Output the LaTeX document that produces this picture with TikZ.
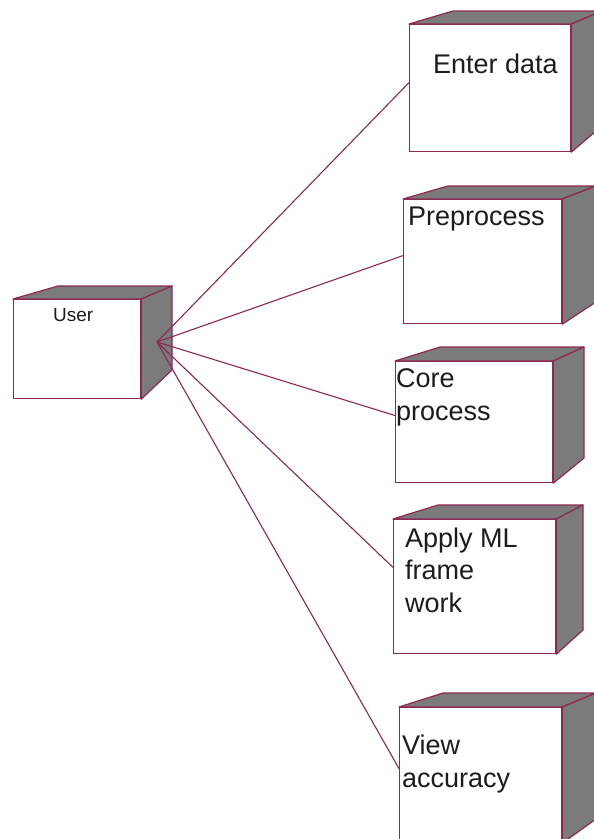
\documentclass[tikz,border=0pt]{standalone}
\usepackage{fontspec}
\setmainfont{Liberation Sans}
\usetikzlibrary{calc}

\definecolor{edge}{RGB}{142,40,82}
\definecolor{shade}{RGB}{123,123,123}
\definecolor{ink}{RGB}{28,28,28}

\tikzset{
  front/.style={draw=edge, fill=white, line width=1.2pt, inner sep=0pt, anchor=north west},
  side/.style={draw=edge, fill=shade, line width=1.2pt, line join=round},
  link/.style={draw=edge, line width=1.1pt},
  % multi-line labels are placed by the baseline of their last line
  label/.style={text=ink, inner sep=0pt, anchor=base west, align=left,
                font=\fontsize{27}{32.5}\selectfont},
}

% top and right faces of a node box: name, back-left x, back top y, back right x, back bottom y
\newcommand\boxfaces[5]{%
  \filldraw[side] (#1.north west) -- (#2,#3) -- (#4,#3) -- (#1.north east) -- cycle;
  \filldraw[side] (#1.north east) -- (#4,#3) -- (#4,#5) -- (#1.south east) -- cycle;
}

\begin{document}
\begin{tikzpicture}[x=1pt, y=-1pt]
\useasboundingbox (0,0) rectangle (594,839);
\fill[white] (0,0) rectangle (594,839);
\begin{scope}
\clip (0,0) rectangle (594,839);

% node boxes (front faces)
\node[front, minimum width=127pt, minimum height=99pt]  (user) at (13,299)  {};
\node[front, minimum width=161pt, minimum height=127pt] (ed)   at (409,24)  {};
\node[front, minimum width=158pt, minimum height=124pt] (pre)  at (403,199) {};
\node[front, minimum width=157pt, minimum height=121pt] (core) at (395,361) {};
\node[front, minimum width=162pt, minimum height=134pt] (ml)   at (393,519) {};
\node[front, minimum width=162pt, minimum height=135pt] (acc)  at (399,707) {};

\boxfaces{user}{58}{286}{172}{370}
\boxfaces{ed}{453}{11}{602}{126}
\boxfaces{pre}{448}{186}{596}{302}
\boxfaces{core}{440}{347}{584}{458}
\boxfaces{ml}{438}{505}{583}{630}
\boxfaces{acc}{443}{693}{596}{819}

% labels
\node[label, font=\fontsize{19}{22}\selectfont] (tuser) at (53,321) {User};
\node[label] (ted)   at (433,73)  {Enter data};
\node[label] (tpre)  at (408,225) {Preprocess};
\node[label] (tcore) at (396,420) {Core\\process};
\node[label] (tml)   at (405,612) {Apply ML\\frame\\work};
\node[label] (tacc)  at (402,787) {View\\accuracy};

% connectors from the user node
\coordinate (hub) at (157,342);
\draw[link] (hub) -- ($(ed.north west)!0.457!(ed.south west)$);
\draw[link] (hub) -- ($(pre.north west)!0.452!(pre.south west)$);
\draw[link] (hub) -- ($(core.north west)!0.446!(core.south west)$);
\draw[link] (hub) -- ($(ml.north west)!0.358!(ml.south west)$);
\draw[link] (hub) -- ($(acc.north west)!0.452!(acc.south west)$);
\end{scope}
\end{tikzpicture}
\end{document}
